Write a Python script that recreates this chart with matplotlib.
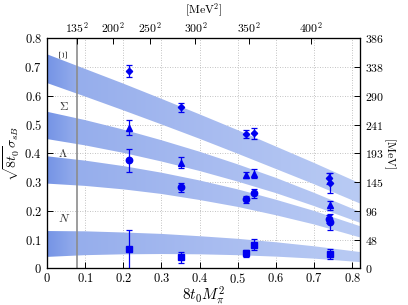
import numpy as np
import matplotlib
matplotlib.use("Agg")
import matplotlib.pyplot as plt
from matplotlib.colors import LinearSegmentedColormap

plt.rcParams['mathtext.fontset'] = 'cm'
plt.rcParams['font.family'] = ['DejaVu Serif']

# ---- data ----
x_phys = 0.0788  # 8 t0 M_pi^2 at physical point (135 MeV)

# Bands (x nodes, lower, upper)
band_x = [0.0, 0.1, 0.2, 0.3, 0.4, 0.5, 0.6, 0.7, 0.82]
xi_lo = [0.645, 0.598, 0.550, 0.501, 0.451, 0.399, 0.346, 0.293, 0.226]
xi_hi = [0.745, 0.694, 0.643, 0.590, 0.536, 0.481, 0.424, 0.367, 0.296]
sig_lo = [0.450, 0.428, 0.402, 0.372, 0.339, 0.302, 0.262, 0.217, 0.159]
sig_hi = [0.545, 0.516, 0.483, 0.446, 0.406, 0.362, 0.315, 0.263, 0.197]
lam_lo = [0.295, 0.287, 0.275, 0.259, 0.238, 0.214, 0.185, 0.153, 0.108]
lam_hi = [0.390, 0.375, 0.356, 0.333, 0.306, 0.275, 0.239, 0.200, 0.147]
nuc_lo = [0.040, 0.046, 0.049, 0.050, 0.049, 0.046, 0.041, 0.034, 0.022]
nuc_hi = [0.130, 0.129, 0.125, 0.120, 0.112, 0.103, 0.091, 0.077, 0.057]

# Lattice points
xi_x = [0.215, 0.352, 0.522, 0.543, 0.740, 0.743]
xi_y = [0.687, 0.560, 0.467, 0.470, 0.313, 0.297]
xi_e = [0.022, 0.017, 0.013, 0.020, 0.020, 0.036]

sig_x = [0.215, 0.352, 0.522, 0.543, 0.742]
sig_y = [0.489, 0.367, 0.325, 0.330, 0.220]
sig_e = [0.026, 0.019, 0.012, 0.017, 0.016]

lam_x = [0.215, 0.352, 0.522, 0.543, 0.740, 0.743]
lam_y = [0.377, 0.282, 0.241, 0.261, 0.172, 0.162]
lam_e = [0.040, 0.016, 0.012, 0.015, 0.015, 0.028]

nuc_x = [0.215, 0.352, 0.522, 0.543, 0.742]
nuc_y = [0.066, 0.038, 0.052, 0.083, 0.050]
nuc_e = [0.067, 0.020, 0.012, 0.019, 0.017]

top_mev = [135, 200, 250, 300, 350, 400]
right_ticks = [0, 0.1, 0.2, 0.3, 0.4, 0.5, 0.6, 0.7, 0.8]
right_labels = ['0', '48', '96', '145', '193', '241', '290', '338', '386']
left_labels = ['0', '0.1', '0.2', '0.3', '0.4', '0.5', '0.6', '0.7', '0.8']

band_labels = [(r'$\Xi$', 0.045, 0.745, 90), (r'$\Sigma$', 0.045, 0.562, 0),
               (r'$\Lambda$', 0.041, 0.400, 0), (r'$N$', 0.045, 0.172, 0)]

# ---- figure ----
fig = plt.figure(figsize=(4.08, 3.05), dpi=100)
ax = fig.add_axes([0.115, 0.12, 0.767, 0.754])
xmax = 0.82

cmap = LinearSegmentedColormap.from_list(
    'band', [(0.0, '#7594e6'), (0.1, '#96aeec'), (0.5, '#a7bbf0'), (1.0, '#b9cbf4')])
grad = np.linspace(0, 1, 256)[None, :]

for lo, hi in [(xi_lo, xi_hi), (sig_lo, sig_hi), (lam_lo, lam_hi), (nuc_lo, nuc_hi)]:
    poly = ax.fill_between(band_x, lo, hi, facecolor='none', edgecolor='none', zorder=1)
    im = ax.imshow(grad, cmap=cmap, extent=[0, xmax, 0, 0.8], aspect='auto',
                   zorder=1, interpolation='bilinear')
    im.set_clip_path(poly.get_paths()[0], transform=ax.transData)

ax.set_xlim(0, xmax)
ax.set_ylim(0, 0.8)

ax.axvline(x_phys, color='#8c8c8c', lw=1.2, zorder=2)

mcol = '#0000f0'
ekw = dict(fmt='none', ecolor=mcol, elinewidth=0.9, capsize=2.5, capthick=0.9, zorder=4)
for xs, ys, es, mk, ms in [(xi_x, xi_y, xi_e, 'D', 3.2), (sig_x, sig_y, sig_e, '^', 4.2),
                           (lam_x, lam_y, lam_e, 'o', 4.6), (nuc_x, nuc_y, nuc_e, 's', 4.4)]:
    ax.errorbar(xs, ys, yerr=es, **ekw)
    ax.plot(xs, ys, ls='none', marker=mk, ms=ms, color=mcol, mec=mcol, zorder=5)

for txt, tx, ty, rot in band_labels:
    ax.text(tx, ty, txt, fontsize=8.5, rotation=rot, ha='center', va='center',
            color='#333333', zorder=3)

ax.set_xticks([0, 0.1, 0.2, 0.3, 0.4, 0.5, 0.6, 0.7, 0.8])
ax.set_xticklabels([r'$%s$' % s for s in left_labels])
ax.set_yticks(right_ticks)
ax.set_yticklabels([r'$%s$' % s for s in left_labels])
ax.tick_params(direction='in', length=4, width=0.7, labelsize=9, top=False, right=False)
ax.tick_params(axis='x', pad=2.5)
ax.grid(True, ls=(0, (1, 2)), color='#b0b0b0', lw=0.6, zorder=0)
ax.set_axisbelow(True)
ax.set_xlabel(r'$8t_0M_\pi^2$', fontsize=11, labelpad=-1.5)
ax.set_ylabel(r'$\sqrt{8t_0}\sigma_{sB}$', fontsize=10, labelpad=2)

ax2 = ax.twiny()
ax2.set_xlim(0, xmax)
ax2.set_xticks([x_phys * (m / 135.0) ** 2 for m in top_mev])
ax2.set_xticklabels([r'$%d^2$' % m for m in top_mev])
ax2.tick_params(direction='in', length=4, width=0.7, labelsize=8.5, pad=2)
ax2.set_xlabel(r'$[\mathrm{MeV}^2]$', fontsize=8.5, labelpad=5)

ax3 = ax.twinx()
ax3.set_ylim(0, 0.8)
ax3.set_yticks(right_ticks)
ax3.set_yticklabels([r'$%s$' % s for s in right_labels])
ax3.tick_params(direction='in', length=4, width=0.7, labelsize=8.5)
ax3.set_ylabel(r'$[\mathrm{MeV}]$', fontsize=8.5, rotation=270, labelpad=10)

for a in (ax, ax2, ax3):
    for s in a.spines.values():
        s.set_linewidth(0.8)

fig.savefig('out.png', dpi=100)
